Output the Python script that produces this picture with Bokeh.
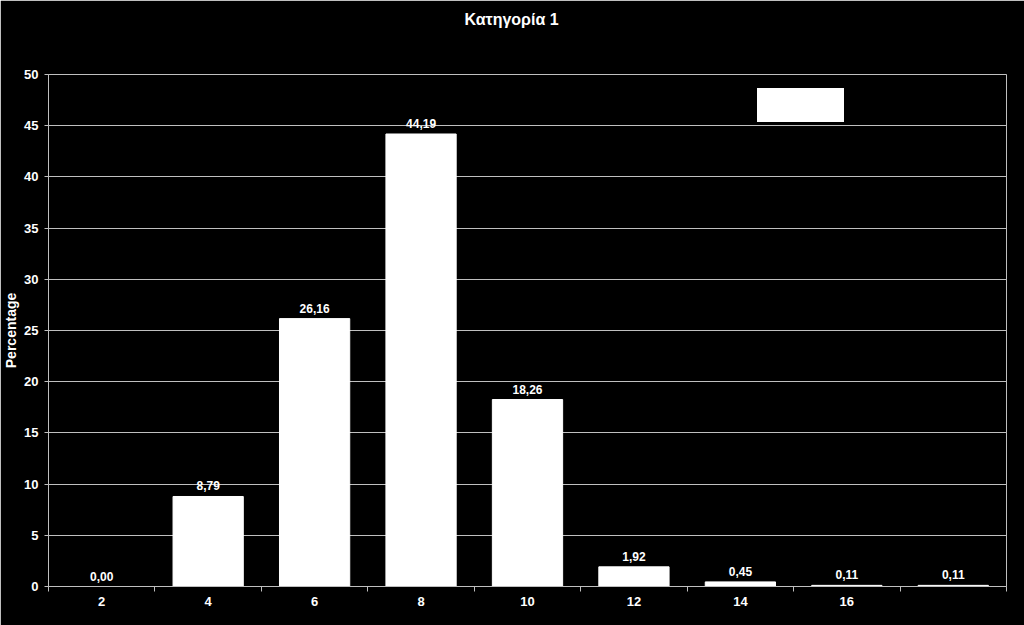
from bokeh.plotting import figure
from bokeh.models import ColumnDataSource, FixedTicker, LabelSet, Range1d, Legend, LegendItem, Title
from bokeh.core.properties import value
from bokeh.embed import file_html
from bokeh.resources import INLINE

categories = ["2", "4", "6", "8", "10", "12", "14", "16", ""]
values = [0.00, 8.79, 26.16, 44.19, 18.26, 1.92, 0.45, 0.11, 0.11]
y_ticks = [0, 5, 10, 15, 20, 25, 30, 35, 40, 45, 50]
title_text = "Κατηγορία 1"

FONT = "Liberation Sans"
GRID = "#bfbfbf"

xs = [i + 0.5 for i in range(len(categories))]
labels = [f"{v:.2f}".replace(".", ",") for v in values]
src = ColumnDataSource(dict(x=xs, top=values, lab=labels))

p = figure(frame_width=958, frame_height=512, output_backend="svg", toolbar_location=None,
           x_range=Range1d(0, len(categories)), y_range=Range1d(0, 50),
           min_border_left=48, min_border_right=18, min_border_top=74, min_border_bottom=39,
           background_fill_color="black", border_fill_color="black", outline_line_color=GRID)

# main title (outermost)
p.title.text = title_text
p.title.align = "left"
p.title.offset = 416
p.title.standoff = 17
p.title.text_color = "white"
p.title.text_font = FONT
p.title.text_font_size = "16px"
p.title.text_font_style = "bold"

# blank spacer between title and plot area
spacer = Title(text=" ", text_font_size="16px", standoff=19)
p.add_layout(spacer, "above")

bars = p.vbar(x="x", top="top", width=0.66, bottom=0, source=src, fill_color="white", line_color="white")

p.add_layout(LabelSet(x="x", y="top", text="lab", source=src, y_offset=6,
                      text_align="center", text_baseline="bottom", text_color="white",
                      text_font=value(FONT), text_font_size="12px", text_font_style="bold"))

# x axis: labels at category centres, tick marks at boundaries
p.xaxis.ticker = FixedTicker(ticks=xs, minor_ticks=list(range(len(categories) + 1)))
p.xaxis.major_label_overrides = {x: c for x, c in zip(xs, categories)}
p.xaxis.major_tick_line_color = None
p.xaxis.minor_tick_line_color = GRID
p.xaxis.minor_tick_out = 5
p.xaxis.minor_tick_in = 0
p.xaxis.axis_line_color = GRID
p.xaxis.major_label_text_color = "white"
p.xaxis.major_label_text_font = FONT
p.xaxis.major_label_text_font_size = "13px"
p.xaxis.major_label_text_font_style = "bold"
p.xaxis.major_label_standoff = 4
p.xgrid.grid_line_color = None

p.yaxis.ticker = FixedTicker(ticks=y_ticks, minor_ticks=[])
p.yaxis.axis_label = "Percentage"
p.yaxis.axis_label_text_color = "white"
p.yaxis.axis_label_text_font = FONT
p.yaxis.axis_label_text_font_size = "14px"
p.yaxis.axis_label_text_font_style = "bold"
p.yaxis.axis_label_standoff = 2
p.yaxis.major_label_text_color = "white"
p.yaxis.major_label_text_font = FONT
p.yaxis.major_label_text_font_size = "13px"
p.yaxis.major_label_text_font_style = "bold"
p.yaxis.major_label_standoff = 6
p.yaxis.major_tick_out = 4
p.yaxis.major_tick_in = 0
p.yaxis.major_tick_line_color = GRID
p.yaxis.axis_line_color = GRID
p.ygrid.grid_line_color = GRID

# empty white legend box
legend = Legend(items=[LegendItem(label=" ", renderers=[bars])], location=(709, 464),
                background_fill_color="white", background_fill_alpha=1.0,
                border_line_color=None, padding=5, margin=0, spacing=0,
                glyph_width=20, glyph_height=34, label_standoff=5, label_width=62,
                label_text_color="white", label_text_font_size="1px")
p.add_layout(legend, "center")

html = file_html(p, INLINE)
html = html.replace("<body>", '<body style="background-color:black;">', 1)
open("out.html", "w").write(html)
